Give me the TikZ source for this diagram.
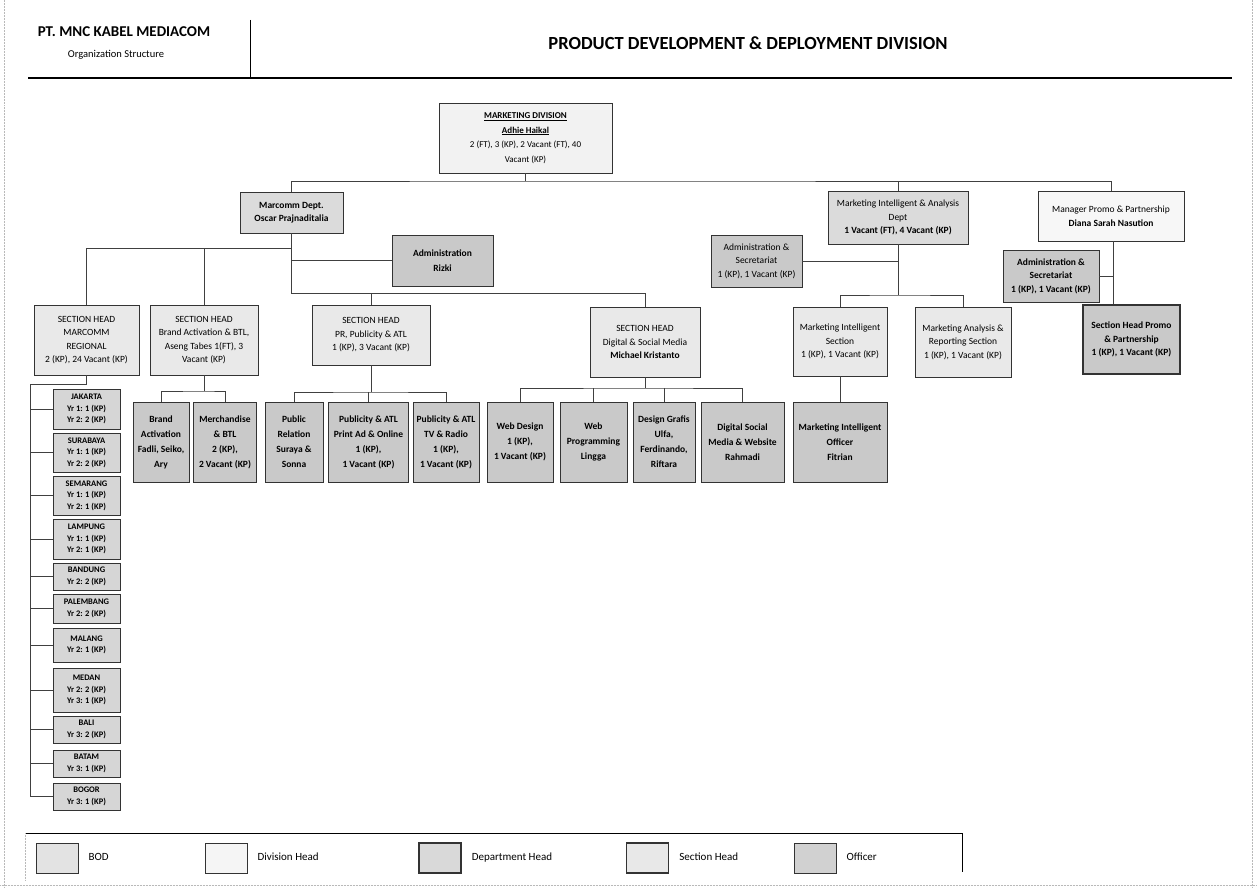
\documentclass[tikz,border=0pt]{standalone}
\usepackage{fontspec}
\setmainfont{Carlito}
\usepackage{tikz}

\tikzset{
  orgbox/.style={draw=black!80, line width=0.8pt, align=center, inner sep=1pt, font=\fontsize{9.5}{13.5}\selectfont},
  wh/.style n args={2}{minimum width=#1pt, minimum height=#2pt},
  divhead/.style={orgbox, fill=gray!10},
  depthead/.style={orgbox, fill=gray!28},
  sechead/.style={orgbox, fill=gray!17},
  officer/.style={orgbox, fill=gray!42, font=\fontsize{9.5}{15}\selectfont\bfseries},
  citybox/.style={orgbox, fill=gray!32, wh={67}{10}, font=\fontsize{8.5}{11.5}\selectfont\bfseries},
  legbox/.style={draw=black!80, line width=0.8pt, wh={42}{30}},
  orgline/.style={draw=black!75, line width=0.6pt},
  scanedge/.style={draw=gray!55, line width=0.5pt, densely dotted},
}

\begin{document}
\begin{tikzpicture}[x=1pt,y=1pt,yscale=-1]
    \useasboundingbox (0,0) rectangle (1257,888);
    \fill[white] (0,0) rectangle (1257,888);
    % scan borders
    \draw[scanedge] (4,0) -- (4,888);
    \draw[scanedge] (1252,0) -- (1252,888);
    \draw[scanedge] (0,885) -- (1257,885);

    % header
    \node[font=\fontsize{15}{17}\selectfont\bfseries] (company) at (124,32) {PT. MNC KABEL MEDIACOM};
    \node[font=\fontsize{10.5}{12}\selectfont] (subtitle) at (116,55) {Organization Structure};
    \node[font=\fontsize{18.5}{20}\selectfont\bfseries] (title) at (748,43) {PRODUCT DEVELOPMENT \& DEPLOYMENT DIVISION};
    \draw[line width=1.2pt] (28,78) -- (1232,78);
    \draw[line width=0.6pt] (250,20) -- (250,78);

    % division and departments
    \node[divhead, wh={173}{70}, font=\fontsize{9}{14.5}\selectfont] (mkt) at (525.5,138) {\underline{\textbf{MARKETING DIVISION}}\\\underline{\textbf{Adhie Haikal}}\\2 (FT), 3 (KP), 2 Vacant (FT), 40\\Vacant (KP)};
    \node[depthead, wh={103}{41}, font=\fontsize{9.5}{13.5}\selectfont\bfseries] (mcd) at (291.5,212.5) {Marcomm Dept.\\Oscar Prajnaditalia};
    \node[officer, wh={101}{51}] (adm) at (442.5,260.5) {Administration\\Rizki};
    \node[depthead, wh={140}{53}] (mia) at (898,217.5) {Marketing Intelligent \& Analysis\\Dept\\\textbf{1 Vacant (FT), 4 Vacant (KP)}};
    \node[divhead, fill=gray!6, wh={146}{50}] (mpp) at (1111,216) {Manager Promo \& Partnership\\\textbf{Diana Sarah Nasution}};
    \node[officer, wh={91}{52}, font=\fontsize{9.5}{13.5}\selectfont] (adm1) at (756.5,261) {Administration \&\\Secretariat\\1 (KP), 1 Vacant (KP)};
    \node[officer, wh={96}{52}, font=\fontsize{9.5}{13.5}\selectfont\bfseries] (adm2) at (1051,276) {Administration \&\\Secretariat\\1 (KP), 1 Vacant (KP)};

    % section heads
    \node[sechead, wh={105}{70}] (shr) at (86.5,340) {SECTION HEAD\\MARCOMM\\REGIONAL\\2 (KP), 24 Vacant (KP)};
    \node[sechead, wh={108}{70}] (shb) at (204,340) {SECTION HEAD\\Brand Activation \& BTL,\\Aseng Tabes 1(FT), 3\\Vacant (KP)};
    \node[sechead, wh={118}{60}] (shp) at (371,335) {SECTION HEAD\\PR, Publicity \& ATL\\1 (KP), 3 Vacant (KP)};
    \node[sechead, wh={110}{70}] (shd) at (645,342) {SECTION HEAD\\Digital \& Social Media\\\textbf{Michael Kristanto}};
    \node[sechead, wh={94}{69}] (mis) at (840,341.5) {Marketing Intelligent\\Section\\1 (KP), 1 Vacant (KP)};
    \node[sechead, wh={96}{70}] (mar) at (963,342) {Marketing Analysis \&\\Reporting Section\\1 (KP), 1 Vacant (KP)};
    \node[officer, line width=1.8pt, wh={97}{69}, font=\fontsize{9.5}{13.5}\selectfont\bfseries] (shpp) at (1131.5,339.5) {Section Head Promo\\\& Partnership\\1 (KP), 1 Vacant (KP)};

    % officers
    \node[officer, wh={56}{80}] (brand) at (161,442) {Brand\\Activation\\Fadli, Seiko,\\Ary};
    \node[officer, wh={63}{80}] (merch) at (225,442) {Merchandise\\\& BTL\\2 (KP),\\2 Vacant (KP)};
    \node[officer, wh={58}{80}] (pubrel) at (294,442) {Public\\Relation\\Suraya \&\\Sonna};
    \node[officer, wh={80}{80}] (pubprint) at (368.5,442) {Publicity \& ATL\\Print Ad \& Online\\1 (KP),\\1 Vacant (KP)};
    \node[officer, wh={66}{80}] (pubtv) at (446,442) {Publicity \& ATL\\TV \& Radio\\1 (KP),\\1 Vacant (KP)};
    \node[officer, wh={66}{80}] (webdes) at (520,442) {Web Design\\1 (KP),\\1 Vacant (KP)};
    \node[officer, wh={67}{80}] (webprog) at (593.5,442) {Web\\Programming\\Lingga};
    \node[officer, wh={62}{80}] (grafis) at (664,442) {Design Grafis\\Ulfa,\\Ferdinando,\\Riftara};
    \node[officer, wh={83}{80}] (digsoc) at (742.5,442) {Digital Social\\Media \& Website\\Rahmadi};
    \node[officer, wh={94}{80}] (miofc) at (840,442) {Marketing Intelligent\\Officer\\Fitrian};

    % regional offices
    \node[citybox, minimum height=40pt] (jkt) at (86.5,409) {JAKARTA\\Yr 1: 1 (KP)\\Yr 2: 2 (KP)};
    \node[citybox, minimum height=39pt] (sby) at (86.5,452.5) {SURABAYA\\Yr 1: 1 (KP)\\Yr 2: 2 (KP)};
    \node[citybox, minimum height=39pt] (smg) at (86.5,495.5) {SEMARANG\\Yr 1: 1 (KP)\\Yr 2: 1 (KP)};
    \node[citybox, minimum height=40pt] (lpg) at (86.5,539) {LAMPUNG\\Yr 1: 1 (KP)\\Yr 2: 1 (KP)};
    \node[citybox, minimum height=27pt] (bdg) at (86.5,576.5) {BANDUNG\\Yr 2: 2 (KP)};
    \node[citybox, minimum height=29pt] (plb) at (86.5,608.5) {PALEMBANG\\Yr 2: 2 (KP)};
    \node[citybox, minimum height=34pt] (mlg) at (86.5,645) {MALANG\\Yr 2: 1 (KP)};
    \node[citybox, minimum height=44pt] (mdn) at (86.5,690) {MEDAN\\Yr 2: 2 (KP)\\Yr 3: 1 (KP)};
    \node[citybox, minimum height=27pt] (bali) at (86.5,729.5) {BALI\\Yr 3: 2 (KP)};
    \node[citybox, minimum height=27pt] (btm) at (86.5,763.5) {BATAM\\Yr 3: 1 (KP)};
    \node[citybox, minimum height=27pt] (bgr) at (86.5,796.5) {BOGOR\\Yr 3: 1 (KP)};

    % connectors
    \coordinate (topbus) at (525.5,181);
    \draw[orgline] (mkt.south) -- (topbus);
    \draw[orgline] (mcd.north) |- (topbus) -| (mpp.north);
    \draw[orgline] (topbus -| mia.north) -- (mia.north);

    \coordinate (mcdbus) at (291.5,248);
    \coordinate (mcdlow) at (291.5,293);
    \draw[orgline] (mcd.south) -- (mcdlow) -| (shd.north);
    \draw[orgline] (shr.north) |- (mcdbus);
    \draw[orgline] (shb.north) -- (shb.north |- mcdbus);
    \draw[orgline] (mcd.south |- adm.west) -- (adm.west);
    \draw[orgline] (shp.north) -- (shp.north |- mcdlow);

    \coordinate (miabus) at (898,295);
    \draw[orgline] (mia.south) -- (miabus);
    \draw[orgline] (adm1.east) -- (adm1.east -| mia.south);
    \draw[orgline] (mis.north) |- (miabus) -| (mar.north);

    \coordinate (mppdrop) at (1113,241);
    \draw[orgline] (mppdrop) -- (mppdrop |- shpp.north);
    \draw[orgline] (adm2.east) -- (adm2.east -| mppdrop);

    \coordinate (brbus) at (204,391);
    \draw[orgline] (shb.south) -- (brbus);
    \draw[orgline] (brand.north) |- (brbus) -| (merch.north);

    \coordinate (prbus) at (371,392);
    \draw[orgline] (shp.south) -- (prbus);
    \draw[orgline] (pubrel.north) |- (prbus) -| (pubtv.north);
    \draw[orgline] (pubprint.north) -- (pubprint.north |- prbus);

    \coordinate (digbus) at (645,388);
    \draw[orgline] (shd.south) -- (digbus);
    \draw[orgline] (webdes.north) |- (digbus) -| (digsoc.north);
    \foreach \n in {webprog,grafis}
        \draw[orgline] (\n.north) -- (\n.north |- digbus);

    \draw[orgline] (mis.south) -- (miofc.north);

    \coordinate (regbus) at (30,384);
    \draw[orgline] (shr.south) |- (regbus) -- (regbus |- bgr.west) -- (bgr.west);
    \foreach \n in {jkt,sby,smg,lpg,bdg,plb,mlg,mdn,bali,btm}
        \draw[orgline] (regbus |- \n.west) -- (\n.west);

    % legend
    \draw[line width=0.8pt] (25,833) -- (962,833) -- (962,872);
    \draw[scanedge] (25,833) -- (25,880);
    \node[legbox, fill=gray!22] (legbod) at (57,858) {};
    \node[legbox, fill=gray!8] (legdiv) at (226,858) {};
    \node[legbox, fill=gray!30, line width=1.2pt] (legdept) at (440,858) {};
    \node[legbox, fill=gray!18, line width=1.4pt] (legsec) at (647.5,858) {};
    \node[legbox, fill=gray!36] (legofc) at (815,858) {};
    \foreach \n/\t in {legbod/BOD, legdiv/Division Head, legdept/Department Head, legsec/Section Head, legofc/Officer}
        \node[anchor=west, font=\fontsize{11}{13}\selectfont, inner sep=0pt, text height=1.6ex, text depth=0.4ex] (\n txt) at ([xshift=10pt]\n.east) {\t};
\end{tikzpicture}
\end{document}
